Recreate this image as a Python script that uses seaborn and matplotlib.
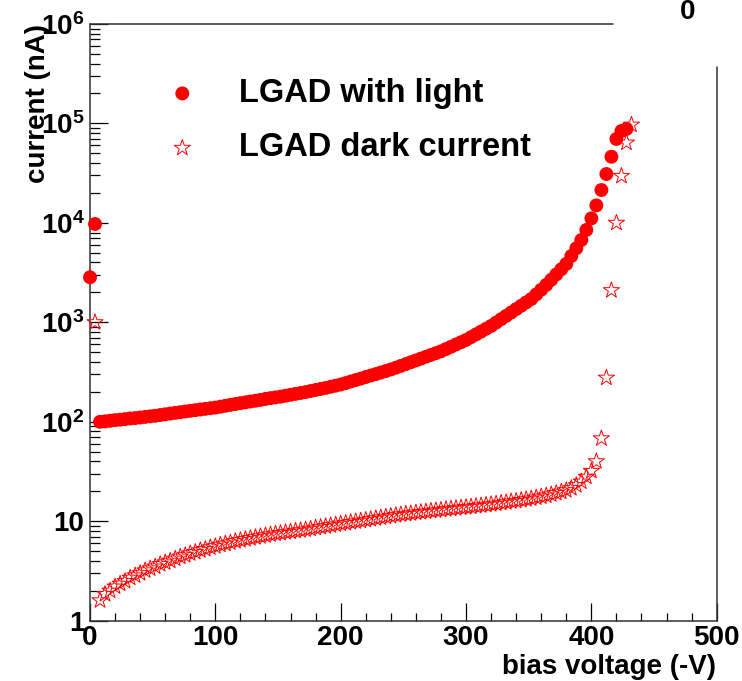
import matplotlib
matplotlib.use("Agg")
import matplotlib.pyplot as plt
import seaborn as sns
import pandas as pd
from matplotlib.lines import Line2D
from matplotlib.ticker import LogLocator, MultipleLocator, NullFormatter

# ---------------- data ----------------
light_v = [0, 4,
           8, 12, 16, 20, 24, 28, 32, 36, 40, 44, 48, 52, 56, 60, 64, 68, 72, 76,
           80, 84, 88, 92, 96, 100, 104, 108, 112, 116, 120, 124, 128, 132, 136, 140,
           144, 148, 152, 156, 160, 164, 168, 172, 176, 180, 184, 188, 192, 196, 200,
           204, 208, 212, 216, 220, 224, 228, 232, 236, 240, 244, 248, 252, 256, 260,
           264, 268, 272, 276, 280, 284, 288, 292, 296, 300, 304, 308, 312, 316, 320,
           324, 328, 332, 336, 340, 344, 348, 352, 356, 360, 364, 368, 372, 376, 380,
           384, 388, 392, 396, 400, 404, 408, 412, 416, 420, 424, 428]
light_i = [2840, 9750,
           100, 101, 102.5, 104, 105, 106.5, 108, 109, 110.5, 112, 113.5, 115, 117, 119, 121, 123, 125, 127,
           129, 131, 133, 135, 137, 139, 142, 145, 148, 151, 154, 157, 160, 163, 166, 170,
           173, 176, 179, 183, 187, 191, 195, 199, 204, 209, 214, 219, 225, 231, 237,
           245, 254, 263, 272, 282, 292, 302, 313, 324, 336, 350, 365, 381, 397, 414,
           432, 451, 470, 490, 511, 539, 568, 599, 631, 665, 710, 757, 808, 862, 920,
           995, 1075, 1162, 1256, 1358, 1468, 1587, 1715, 1910, 2130, 2375, 2680, 3030, 3420, 3870,
           4640, 5560, 6730, 8490, 11100, 15000, 21400, 31000, 46300, 69800, 84000, 88000]

dark_v = [4,
          8, 12, 16, 20, 24, 28, 32, 36, 40, 44, 48, 52, 56, 60, 64, 68, 72, 76,
          80, 84, 88, 92, 96, 100, 104, 108, 112, 116, 120, 124, 128, 132, 136, 140,
          144, 148, 152, 156, 160, 164, 168, 172, 176, 180, 184, 188, 192, 196, 200,
          204, 208, 212, 216, 220, 224, 228, 232, 236, 240, 244, 248, 252, 256, 260,
          264, 268, 272, 276, 280, 284, 288, 292, 296, 300, 304, 308, 312, 316, 320,
          324, 328, 332, 336, 340, 344, 348, 352, 356, 360, 364, 368, 372, 376, 380,
          384, 388, 392, 396, 400, 404, 408, 412, 416, 420, 424, 428, 432]
dark_i = [1000,
          1.6, 1.85, 2.0, 2.2, 2.35, 2.5, 2.7, 2.85, 3.0, 3.2, 3.35, 3.5, 3.7, 3.85, 4.0, 4.2, 4.4, 4.55,
          4.75, 4.9, 5.1, 5.25, 5.45, 5.6, 5.8, 5.95, 6.1, 6.3, 6.45, 6.6, 6.75, 6.9, 7.05, 7.2,
          7.35, 7.5, 7.6, 7.75, 7.85, 8.0, 8.1, 8.25, 8.4, 8.6, 8.75, 8.9, 9.1, 9.25, 9.45,
          9.6, 9.8, 9.95, 10.1, 10.3, 10.5, 10.7, 10.9, 11.1, 11.3, 11.5, 11.7, 11.85, 12.0, 12.2,
          12.35, 12.5, 12.7, 12.85, 13.0, 13.2, 13.35, 13.5, 13.7, 13.85, 14.0, 14.2, 14.4, 14.6, 14.8,
          15.0, 15.3, 15.5, 15.8, 16.0, 16.3, 16.6, 16.9, 17.3, 17.7, 18.1, 18.6, 19.2, 19.8, 20.5,
          21.5, 23, 25, 28, 32, 40, 68, 277, 2100, 10000, 29600, 64000, 97000]

series_names = ["LGAD with light", "LGAD dark current"]
x_ticks = [0, 100, 200, 300, 400, 500]
x_ticklabels = ["0", "100", "200", "300", "400", "500"]
y_ticks = [1, 10, 100, 1000, 10000, 100000, 1000000]
y_ticklabels = ["1", "10", r"$10^{2}$", r"$10^{3}$", r"$10^{4}$", r"$10^{5}$", r"$10^{6}$"]
x_title = "bias voltage (-V)"
y_title = "current (nA)"
corner_text = "0"

light_df = pd.DataFrame({"V": light_v, "I": light_i})
dark_df = pd.DataFrame({"V": dark_v, "I": dark_i})

# ---------------- style ----------------
sns.set_theme(style="white")
plt.rcParams["font.family"] = ["Liberation Sans", "DejaVu Sans"]
plt.rcParams["font.weight"] = "bold"
plt.rcParams["text.color"] = "black"
plt.rcParams["axes.labelcolor"] = "black"
plt.rcParams["xtick.color"] = "black"
plt.rcParams["ytick.color"] = "black"
plt.rcParams["mathtext.fontset"] = "custom"
plt.rcParams["mathtext.rm"] = "Liberation Sans:bold"
plt.rcParams["mathtext.it"] = "Liberation Sans:bold"
plt.rcParams["mathtext.bf"] = "Liberation Sans:bold"
plt.rcParams["mathtext.default"] = "rm"

fig = plt.figure(figsize=(7.42, 6.81), dpi=100)
ax = fig.add_axes([0.1213, 0.0885, 0.8446, 0.8763])

red = "#ff0000"
sns.scatterplot(data=light_df, x="V", y="I", ax=ax, marker="o", s=100,
                color=red, edgecolor="none", linewidth=0,
                label=series_names[0], clip_on=False, zorder=3)
sns.scatterplot(data=dark_df, x="V", y="I", ax=ax, marker="*", s=150,
                facecolor="none", edgecolor=red, linewidth=0.7,
                label=series_names[1], clip_on=False, zorder=4)

ax.set_yscale("log")
ax.set_xlim(0, 500)
ax.set_ylim(1, 1e6)
ax.set_xlabel("")
ax.set_ylabel("")

ax.set_xticks(x_ticks)
ax.set_xticklabels(x_ticklabels)
ax.set_yticks(y_ticks)
ax.set_yticklabels(y_ticklabels)
ax.xaxis.set_minor_locator(MultipleLocator(20))
ax.yaxis.set_minor_locator(LogLocator(base=10, subs=range(2, 10), numticks=20))
ax.yaxis.set_minor_formatter(NullFormatter())

ax.tick_params(which="both", direction="in", bottom=True, left=True,
               top=False, right=False, color="black", width=0.9)
ax.tick_params(which="major", length=13, labelsize=20, labelcolor="black")
ax.tick_params(axis="y", which="major", pad=4)
ax.tick_params(axis="x", which="major", pad=3)
ax.tick_params(axis="y", which="minor", length=7)
ax.tick_params(axis="x", which="minor", length=6)
for lab in ax.get_xticklabels() + ax.get_yticklabels():
    lab.set_fontweight("bold")

for side in ["top", "right"]:
    ax.spines[side].set_visible(False)
for side in ["left", "bottom"]:
    ax.spines[side].set_color("#333333")
    ax.spines[side].set_linewidth(1.1)

# partial frame lines (top-right corner is blanked in the reference)
ax.add_line(Line2D([0, 0.834], [1, 1], transform=ax.transAxes,
                   color="#333333", lw=1.1, clip_on=False))
ax.add_line(Line2D([1, 1], [0, 0.928], transform=ax.transAxes,
                   color="#333333", lw=1.1, clip_on=False))

leg = ax.legend(loc="upper left", bbox_to_anchor=(166 / 742, 1 - 78 / 681),
                bbox_transform=fig.transFigure, frameon=False,
                prop={"family": "Liberation Sans", "weight": "bold", "size": 23.5},
                handlelength=1.0, handletextpad=1.25, labelspacing=0.72,
                borderpad=0, borderaxespad=0, scatterpoints=1)
for t in leg.get_texts():
    t.set_color("black")

fig.text(38 / 742, 1 - 24 / 681, y_title, rotation=90, ha="center", va="top",
         fontsize=20, fontweight="bold", color="black")
fig.text(716 / 742, 1 - 667 / 681, x_title, ha="right", va="center",
         fontsize=20, fontweight="bold", color="black")
fig.text(688 / 742, 1 - 12 / 681, corner_text, ha="center", va="center",
         fontsize=20, fontweight="bold", color="black")

fig.savefig("out.png", dpi=100)
